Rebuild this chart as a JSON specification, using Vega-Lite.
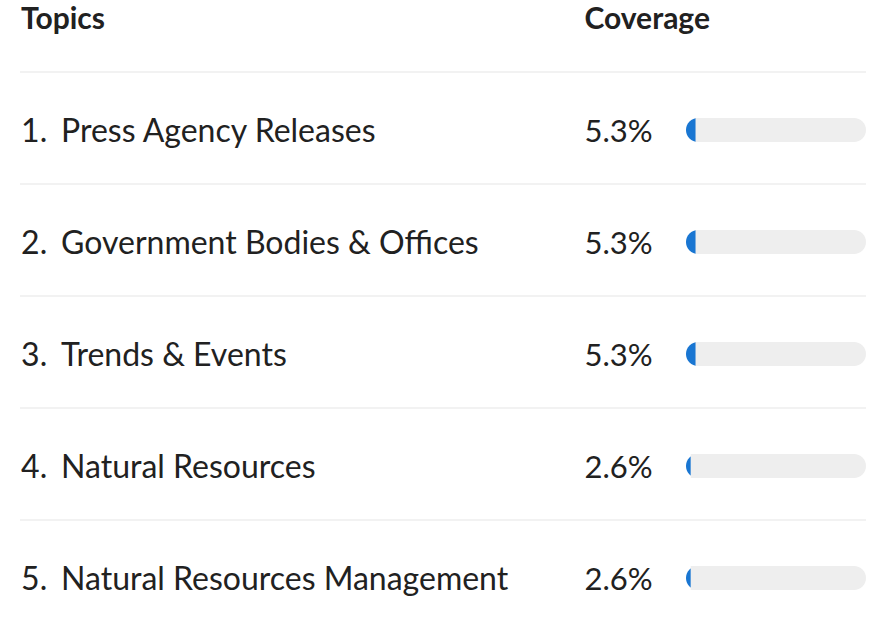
{
  "$schema": "https://vega.github.io/schema/vega-lite/v6.json",
  "width": 876,
  "height": 630,
  "autosize": {"type": "none"},
  "padding": 0,
  "background": "white",
  "config": {"view": {"stroke": null}, "font": "Lato"},
  "data": {
    "values": [
      {"rank": 1, "num": "1.", "topic": "Press Agency Releases", "coverage": 5.3, "label": "5.3%"},
      {"rank": 2, "num": "2.", "topic": "Government Bodies & Offices", "coverage": 5.3, "label": "5.3%"},
      {"rank": 3, "num": "3.", "topic": "Trends & Events", "coverage": 5.3, "label": "5.3%"},
      {"rank": 4, "num": "4.", "topic": "Natural Resources", "coverage": 2.6, "label": "2.6%"},
      {"rank": 5, "num": "5.", "topic": "Natural Resources Management", "coverage": 2.6, "label": "2.6%"}
    ]
  },
  "layer": [
    {
      "mark": {"type": "rule", "color": "#f2f2f2", "strokeWidth": 2, "yOffset": -59},
      "encoding": {
        "x": {"datum": -370, "type": "quantitative", "scale": {"domain": [-381.11, 105.56], "nice": false, "zero": false, "padding": 0}, "axis": null},
        "x2": {"datum": 100},
        "y": {"field": "rank", "type": "quantitative", "scale": {"domain": [-0.1696, 5.4554], "reverse": true, "nice": false, "zero": false, "padding": 0}, "axis": null}
      }
    },
    {
      "mark": {"type": "bar", "orient": "horizontal", "size": 24, "cornerRadius": 12, "color": "#1976d2", "yOffset": -1},
      "encoding": {
        "x": {"datum": 0, "type": "quantitative"},
        "x2": {"datum": 50},
        "y": {"field": "rank", "type": "quantitative"}
      }
    },
    {
      "mark": {"type": "bar", "orient": "horizontal", "size": 24, "cornerRadiusTopRight": 12, "cornerRadiusBottomRight": 12, "color": "#eeeeee", "yOffset": -1},
      "encoding": {
        "x": {"field": "coverage", "type": "quantitative"},
        "x2": {"datum": 100},
        "y": {"field": "rank", "type": "quantitative"}
      }
    },
    {
      "mark": {"type": "text", "align": "left", "baseline": "alphabetic", "dy": 11.5, "fontSize": 32, "color": "#212121"},
      "encoding": {
        "x": {"datum": -369.4, "type": "quantitative"},
        "y": {"field": "rank", "type": "quantitative"},
        "text": {"field": "num"}
      }
    },
    {
      "mark": {"type": "text", "align": "left", "baseline": "alphabetic", "dy": 11.5, "fontSize": 32, "color": "#212121"},
      "encoding": {
        "x": {"datum": -347.2, "type": "quantitative"},
        "y": {"field": "rank", "type": "quantitative"},
        "text": {"field": "topic"}
      }
    },
    {
      "mark": {"type": "text", "align": "left", "baseline": "alphabetic", "dy": 11.5, "fontSize": 31, "color": "#212121"},
      "encoding": {
        "x": {"datum": -56.4, "type": "quantitative"},
        "y": {"field": "rank", "type": "quantitative"},
        "text": {"field": "label"}
      }
    },
    {
      "data": {"values": [{"header": "Topics"}]},
      "mark": {"type": "text", "align": "left", "baseline": "alphabetic", "dy": 10, "fontSize": 30, "fontWeight": "bold", "color": "#212121"},
      "encoding": {
        "x": {"datum": -369.4, "type": "quantitative"},
        "y": {"datum": 0, "type": "quantitative"},
        "text": {"field": "header"}
      }
    },
    {
      "data": {"values": [{"header": "Coverage"}]},
      "mark": {"type": "text", "align": "left", "baseline": "alphabetic", "dy": 10, "fontSize": 30, "fontWeight": "bold", "color": "#212121"},
      "encoding": {
        "x": {"datum": -56.4, "type": "quantitative"},
        "y": {"datum": 0, "type": "quantitative"},
        "text": {"field": "header"}
      }
    }
  ]
}
